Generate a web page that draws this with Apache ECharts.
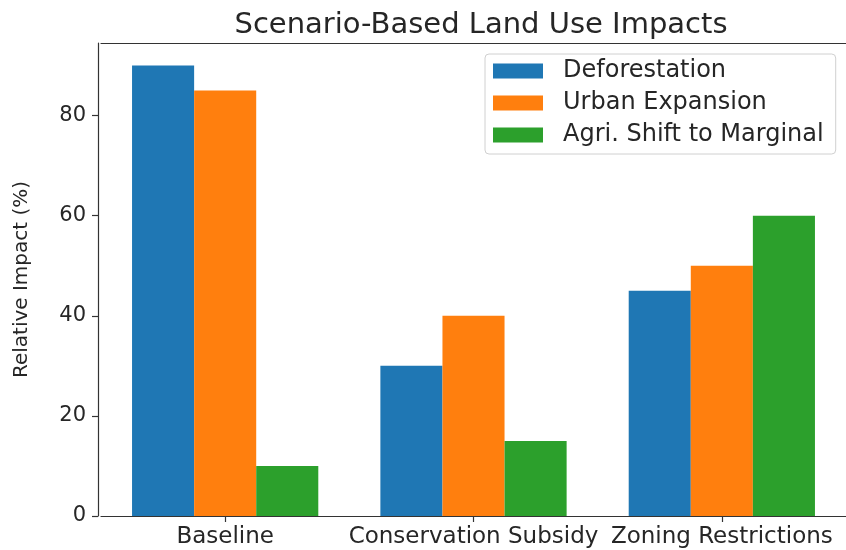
<!DOCTYPE html>
<html>
<head>
<meta charset="utf-8">
<script src="https://cdn.jsdelivr.net/npm/echarts@6/dist/echarts.min.js"></script>
<style>
html,body{margin:0;padding:0;background:#fff;}
#chart{width:846px;height:550px;}
</style>
</head>
<body>
<div id="chart"></div>
<script>
const categories = ['Baseline', 'Conservation Subsidy', 'Zoning Restrictions'];
const deforestation = [90, 30, 45];
const urbanExpansion = [85, 40, 50];
const agriShift = [10, 15, 60];
const seriesNames = ['Deforestation', 'Urban Expansion', 'Agri. Shift to Marginal'];
const yTicks = [0, 20, 40, 60, 80];

const font = 'DejaVu Sans';
const chart = echarts.init(document.getElementById('chart'), null, {renderer: 'canvas'});
const colors = ['#1f77b4', '#ff7f0e', '#2ca02c'];
const values = [deforestation, urbanExpansion, agriShift];
const axisColor = '#333';

chart.setOption({
  backgroundColor: '#fff',
  animation: false,
  title: {
    text: 'Scenario-Based Land Use Impacts',
    left: 476,
    textAlign: 'center',
    top: 6,
    textStyle: {fontFamily: font, fontSize: 29, fontWeight: 'normal', color: '#262626'}
  },
  legend: {
    orient: 'vertical',
    left: 485,
    top: 54,
    padding: [5, 12, 7, 8],
    itemWidth: 50,
    itemHeight: 15,
    itemGap: 8,
    borderColor: '#d0d0d0',
    borderWidth: 1,
    borderRadius: 4,
    backgroundColor: 'rgba(255,255,255,0.8)',
    icon: 'rect',
    data: seriesNames,
    textStyle: {fontFamily: font, fontSize: 24, color: '#262626', lineHeight: 23, padding: [0, 0, 0, 15]}
  },
  grid: {
    left: 101, width: 750, top: 43, bottom: 34,
    show: false,
    containLabel: false
  },
  xAxis: [{
    type: 'category',
    data: categories,
    axisLine: {show: true, lineStyle: {color: axisColor, width: 1.2}},
    axisTick: {show: true, alignWithLabel: true, length: 6, lineStyle: {color: axisColor, width: 1.2}},
    axisLabel: {fontFamily: font, fontSize: 23, color: '#262626', margin: 10, interval: 0},
    splitLine: {show: false}
  }, {
    type: 'category',
    position: 'top',
    data: categories,
    axisLine: {show: true, lineStyle: {color: axisColor, width: 1.2}},
    axisTick: {show: false},
    axisLabel: {show: false},
    splitLine: {show: false}
  }],
  yAxis: {
    type: 'value',
    min: 0,
    max: 94.5,
    interval: 20,
    offset: 3,
    name: 'Relative Impact (%)',
    nameLocation: 'middle',
    nameGap: 66,
    nameTextStyle: {fontFamily: font, fontSize: 20, color: '#262626'},
    axisLine: {show: true, lineStyle: {color: axisColor, width: 1.2}},
    axisTick: {show: true, length: 6, lineStyle: {color: axisColor, width: 1.2},
      customValues: yTicks},
    axisLabel: {fontFamily: font, fontSize: 21, color: '#262626', margin: 12,
      customValues: yTicks,
      formatter: v => (yTicks.indexOf(v) >= 0 ? String(v) : '')},
    splitLine: {show: false}
  },
  series: values.map((d, i) => ({
    name: seriesNames[i],
    type: 'bar',
    data: d,
    barGap: '0%',
    barCategoryGap: '25%',
    itemStyle: {color: colors[i]}
  }))
});
</script>
</body>
</html>
